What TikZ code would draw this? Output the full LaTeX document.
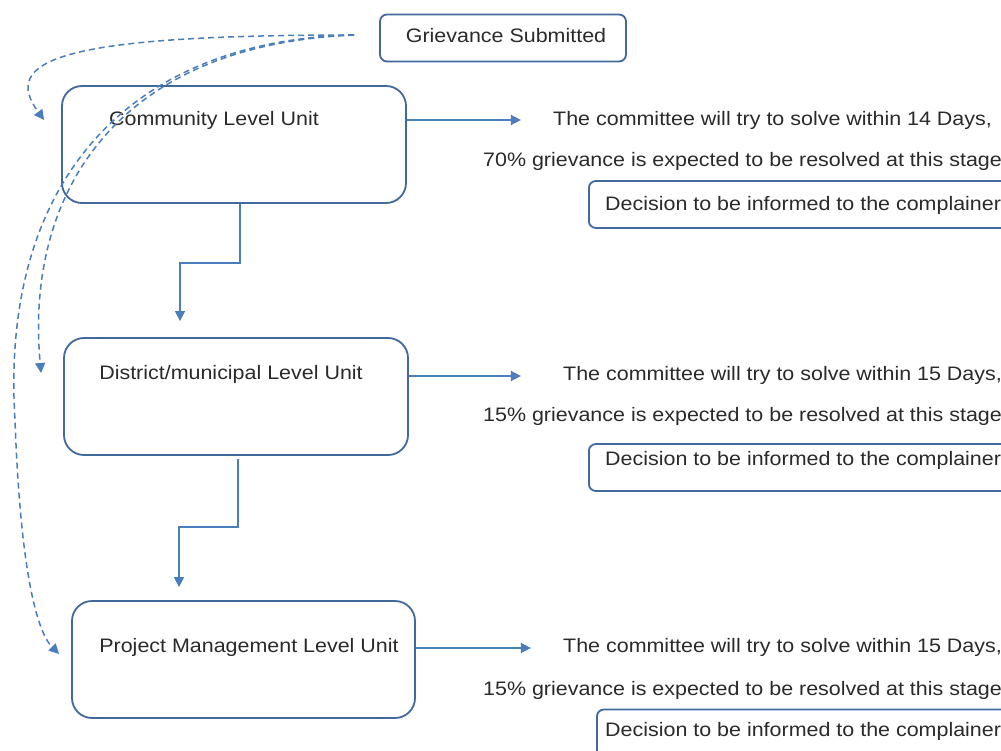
\documentclass[tikz,border=0pt]{standalone}
\usepackage{fontspec}
\setmainfont[FakeStretch=1.1]{Liberation Sans}
\usetikzlibrary{arrows.meta}
\definecolor{lineblue}{HTML}{4A7EBB}
\definecolor{boxblue}{HTML}{41699B}
\definecolor{txt}{HTML}{2A2A2A}
\tikzset{
  bigbox/.style={draw=boxblue, line width=1.8pt, rounded corners=20pt, minimum width=344pt, minimum height=117pt, fill=white},
  smallbox/.style={draw=boxblue, line width=1.8pt, rounded corners=7pt, minimum height=47pt, fill=white},
  lbl/.style={text=txt, font=\fontsize{19.5}{22}\selectfont, inner sep=0pt},
  conn/.style={draw=lineblue, line width=1.5pt, -{Triangle[width=10pt,length=10pt]}},
  dconn/.style={draw=lineblue, line width=1.5pt, dash pattern=on 6pt off 4pt, -{Triangle[width=10pt,length=10pt]}}
}
\begin{document}
\begin{tikzpicture}[x=1pt,y=-1pt]
\useasboundingbox (0,0) rectangle (1001,751);
\clip (0,0) rectangle (1001,751);
\fill[white] (0,0) rectangle (1001,751);

% main boxes
\node[smallbox, minimum width=246pt] (g) at (503,38) {};
\node[lbl] (gt) at (506,36) {Grievance Submitted};
\node[bigbox] (c) at (234,144.5) {};
\node[lbl] (ct) at (214,120) {Community Level Unit};
\node[bigbox] (d) at (236,396.5) {};
\node[lbl] (dt) at (231,374) {District/municipal Level Unit};
\node[bigbox, minimum width=343pt] (p) at (243.5,659.5) {};
\node[lbl] (pt) at (249,647) {Project Management Level Unit};

% right texts
\node[lbl, anchor=west] (c1) at (553,120) {The committee will try to solve within 14 Days,};
\node[lbl, anchor=west] (c2) at (483,161) {70\% grievance is expected to be resolved at this stage};
\node[smallbox, anchor=west, minimum width=424pt] (cb) at (588,204.5) {};
\node[lbl, anchor=west] (cbt) at (605,205) {Decision to be informed to the complainer};

\node[lbl, anchor=west] (d1) at (563,375) {The committee will try to solve within 15 Days,};
\node[lbl, anchor=west] (d2) at (483,416) {15\% grievance is expected to be resolved at this stage};
\node[smallbox, anchor=west, minimum width=420pt] (db) at (588,467.5) {};
\node[lbl, anchor=west] (dbt) at (605,460) {Decision to be informed to the complainer};

\node[lbl, anchor=west] (p1) at (563,647) {The committee will try to solve within 15 Days,};
\node[lbl, anchor=west] (p2) at (483,690) {15\% grievance is expected to be resolved at this stage};
\node[smallbox, anchor=west, minimum width=420pt] (pb) at (596,733) {};
\node[lbl, anchor=west] (pbt) at (605,731) {Decision to be informed to the complainer};

% right arrows
\draw[conn] ([yshift=24.5pt]c.east) -- ++(114,0);
\draw[conn] ([yshift=20.5pt]d.east) -- ++(112,0);
\draw[conn] ([yshift=11.5pt]p.east) -- ++(115,0);

% down connectors
\draw[conn] ([xshift=6pt]c.south) -- ++(0,59) -| ([xshift=-56pt,yshift=16pt]d.north);
\draw[conn] ([xshift=2pt,yshift=-3pt]d.south) -- ++(0,68) -| ([xshift=-64.5pt,yshift=13pt]p.north);

% dashed curves
\coordinate (gs) at ([xshift=-25pt,yshift=3pt]g.west);
\coordinate (ce) at ([xshift=-17pt,yshift=24.5pt]c.west);
\coordinate (de) at ([xshift=-22pt,yshift=23.5pt]d.west);
\coordinate (pe) at ([xshift=-12pt,yshift=5.5pt]p.west);
\draw[dconn] (gs) .. controls (60,35) and (0,60) .. (ce);
\draw[dconn] (gs) .. controls (110,45) and (25,200) .. (de);
\draw[dconn] (gs) .. controls (130,40) and (0,180) .. (15,420) .. controls (20,560) and (35,630) .. (pe);
\end{tikzpicture}
\end{document}
